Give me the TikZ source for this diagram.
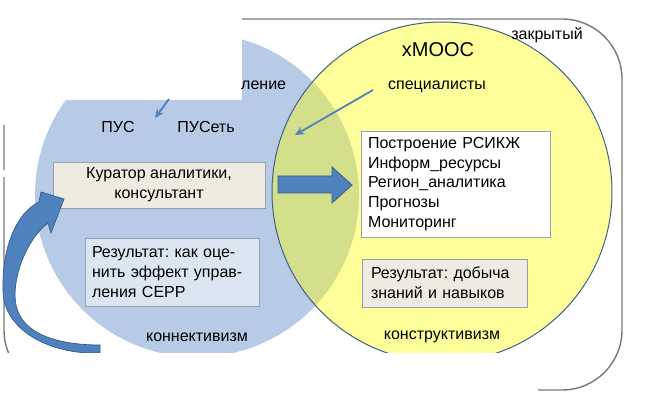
\documentclass[tikz,border=0pt]{standalone}
\usepackage{fontspec}
\setmainfont{Liberation Sans}
\usetikzlibrary{arrows.meta}
\frenchspacing
\definecolor{bluefill}{RGB}{183,202,230}
\definecolor{yelfill}{RGB}{255,255,0}
\definecolor{yeledge}{RGB}{65,96,138}
\definecolor{arrblue}{RGB}{79,129,189}
\definecolor{arredge}{RGB}{56,93,138}
\definecolor{beige}{RGB}{238,236,225}
\definecolor{paleblue}{RGB}{220,230,242}
\definecolor{boxedge}{RGB}{150,160,175}
\definecolor{frame}{RGB}{120,120,120}
\begin{document}
\begin{tikzpicture}[x=1pt,y=-1pt,
  font=\fontsize{16}{19.8}\selectfont,
  lbl/.style={inner sep=0pt},
  boxbase/.style={draw=boxedge, line width=0.8pt, inner ysep=0pt},
  thinarrow/.style={draw=arrblue, line width=1.8pt, -{Stealth[length=9pt,width=8pt]}}]
\useasboundingbox (0,0) rectangle (646,401);
% outer frame
\draw[frame, line width=1.4pt, rounded corners=60pt] (4,19) rectangle (622,390);
% circles
\fill[bluefill] (197,195) circle[radius=162];
\fill[yelfill, fill opacity=0.4] (442,192) circle[radius=170];
\draw[yeledge, line width=1pt] (442,192) circle[radius=170];
% white covers
\fill[white] (0,0) rectangle (242,100);
\fill[white] (0,100) rectangle (20,125);
\fill[white] (0,170) rectangle (12,177);
% boxes
\node[boxbase, fill=beige, minimum width=212pt, minimum height=46pt, align=center] (kur) at (159,185) {Куратор аналитики,\\консультант};
\node[boxbase, fill=white, minimum width=189pt, minimum height=106pt, text width=175pt, inner xsep=7pt, align=left] (list) at (455.5,184) {Построение РСИКЖ\\Информ\_ресурсы\\Регион\_аналитика\\Прогнозы\\Мониторинг};
\node[boxbase, fill=paleblue, minimum width=174pt, minimum height=68pt, text width=160pt, inner xsep=7pt, align=left] (resl) at (172,272) {Результат: как оце-\\нить эффект управ-\\ления СЕРР};
\node[boxbase, fill=beige, minimum width=165pt, minimum height=48pt, text width=147pt, inner xsep=9pt, align=left] (resr) at (444.5,283) {Результат: добыча\\знаний и навыков};
% curved arrow (drawn before bottom cover)
\filldraw[fill=arrblue, draw=arredge, line width=0.7pt] (100,353) .. controls (50,355) and (3,330) .. (3,290) .. controls (2,248) and (16,213) .. (39,202) -- (41,192) -- (64,199) -- (51,233) -- (48,223) .. controls (26,240) and (11,280) .. (16,305) .. controls (22,335) and (60,345) .. (100,345) -- cycle;
\fill[white] (0,353) rectangle (538,401);
% block arrow
\filldraw[fill=arrblue, draw=arredge, line width=0.8pt] (278,176) -- (332,176) -- (332,167) -- (352,185) -- (332,203) -- (332,193) -- (278,193) -- cycle;
% labels
\node[lbl, font=\fontsize{20}{24}\selectfont] (xmooc) at (438,50) {xMOOC};
\node[lbl] (closed) at (547,35) {закрытый};
\node[lbl] (spec) at (437,87) {специалисты};
\node[lbl, anchor=west] (upr) at (241,85) {ление};
\node[lbl] (pus) at (118,127) {ПУС};
\node[lbl] (puset) at (206,127) {ПУСеть};
\node[lbl] (conn) at (197,337) {коннективизм};
\node[lbl] (constr) at (442,337) {конструктивизм};
% thin arrows
\coordinate (specend) at (295,135);
\coordinate (smallstart) at (169,99);
\coordinate (smallend) at (155,118);
\draw[thinarrow] (373,90) -- (specend);
\draw[thinarrow] (smallstart) -- (smallend);
\end{tikzpicture}
\end{document}
